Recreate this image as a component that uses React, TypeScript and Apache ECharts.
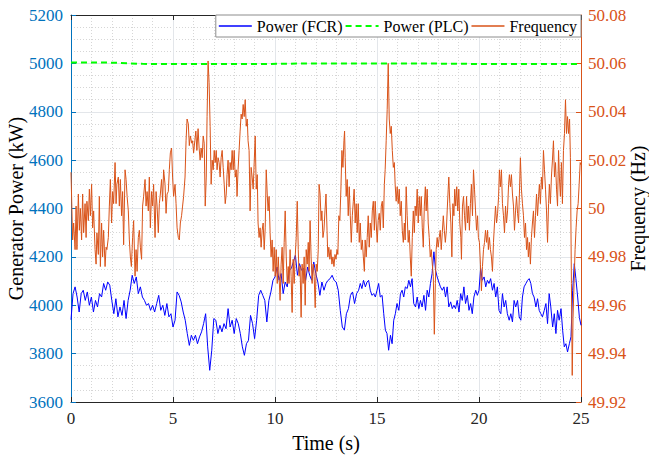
import React, { useEffect, useRef } from "react";
import * as echarts from "echarts";

// ---------- data ----------
const xTicks = [0, 5, 10, 15, 20, 25];
const powerTicks = [3600, 3800, 4000, 4200, 4400, 4600, 4800, 5000, 5200];
const freqTicks = [49.92, 49.94, 49.96, 49.98, 50, 50.02, 50.04, 50.06, 50.08];

const legendNames = ["Power (FCR)", "Power (PLC)", "Frequency"];

// Power (FCR) [time s, kW]
const powerFCR: [number, number][] = [
  [0, 3940], [0.1, 4048], [0.2, 4076], [0.3, 4034], [0.4, 3972], [0.5, 4048], [0.6, 4062], [0.7, 4020], [0.8, 4055], [0.9, 4000],
  [1.0, 4034], [1.1, 3972], [1.2, 4020], [1.3, 3993], [1.4, 4048], [1.5, 4034], [1.6, 4090], [1.7, 4062], [1.8, 4096], [1.9, 4083],
  [2.0, 4020], [2.1, 3965], [2.2, 4027], [2.3, 3952], [2.4, 3993], [2.5, 3958], [2.6, 4020], [2.7, 3945], [2.8, 4020], [2.9, 4062],
  [3.0, 4124], [3.1, 4090], [3.2, 4117], [3.3, 4048], [3.4, 4076], [3.5, 4034], [3.6, 4020], [3.7, 4000], [3.8, 4007], [3.9, 3979],
  [4.0, 4000], [4.1, 3972], [4.2, 4007], [4.3, 4041], [4.4, 3979], [4.5, 4000], [4.6, 3958], [4.7, 4007], [4.8, 3952], [4.9, 3965],
  [5.0, 3910], [5.1, 3938], [5.2, 4055], [5.3, 4041], [5.4, 4014], [5.5, 3972], [5.6, 3938], [5.7, 3883], [5.8, 3834], [5.9, 3876],
  [6.0, 3855], [6.1, 3876], [6.2, 3841], [6.3, 3869], [6.4, 3890], [6.5, 3924], [6.6, 3965], [6.7, 3828], [6.8, 3731], [6.9, 3814],
  [7.0, 3945], [7.1, 3938], [7.2, 3883], [7.3, 3917], [7.4, 3890], [7.5, 3924], [7.6, 3903], [7.7, 3986], [7.8, 3910], [7.9, 3938],
  [8.0, 3883], [8.1, 3945], [8.2, 3924], [8.3, 3883], [8.4, 3828], [8.5, 3793], [8.6, 3841], [8.7, 3855], [8.8, 3958], [8.9, 3924],
  [9.0, 3862], [9.1, 3938], [9.2, 4041], [9.3, 4062], [9.4, 4041], [9.5, 4020], [9.6, 3931], [9.7, 4020], [9.8, 4055], [9.9, 4103],
  [10.0, 4117], [10.1, 4158], [10.2, 4103], [10.3, 4131], [10.4, 4048], [10.5, 4096], [10.6, 4076], [10.7, 4145], [10.8, 4152], [10.9, 4179],
  [11.0, 4207], [11.1, 4124], [11.2, 4172], [11.3, 4145], [11.4, 4152], [11.5, 4103], [11.6, 4158], [11.7, 4124], [11.8, 4103], [11.9, 4179],
  [12.0, 4131], [12.1, 4096], [12.2, 4041], [12.3, 4096], [12.4, 4062], [12.5, 4090], [12.6, 4103], [12.7, 4110], [12.8, 4124], [12.9, 4103],
  [13.0, 4096], [13.1, 4062], [13.2, 3979], [13.3, 3910], [13.4, 3897], [13.5, 3965], [13.6, 3986], [13.7, 4041], [13.8, 4055], [13.9, 4007],
  [14.0, 4048], [14.1, 4062], [14.18, 4090], [14.26, 4069], [14.34, 4103], [14.43, 4076], [14.51, 4096], [14.59, 4103], [14.67, 4062], [14.75, 4041],
  [14.84, 4048], [14.92, 4034], [15.0, 4062], [15.08, 4090], [15.16, 4034], [15.25, 4041], [15.33, 3965], [15.41, 3897], [15.49, 3883], [15.57, 3814],
  [15.66, 3876], [15.74, 3841], [15.82, 3938], [15.9, 3965], [15.98, 4007], [16.07, 3979], [16.15, 4048], [16.23, 4062], [16.31, 4034], [16.39, 4076],
  [16.48, 4069], [16.56, 4103], [16.64, 4076], [16.72, 4110], [16.8, 4007], [16.89, 3993], [16.97, 4034], [17.05, 3986], [17.13, 4020], [17.21, 3993],
  [17.3, 4041], [17.38, 3979], [17.46, 4062], [17.54, 4034], [17.62, 4090], [17.7, 4131], [17.79, 4221], [17.87, 4145], [17.95, 4117], [18.03, 4096],
  [18.11, 4076], [18.2, 4062], [18.28, 4076], [18.36, 4034], [18.44, 4076], [18.52, 3993], [18.61, 4014], [18.69, 3986], [18.77, 4000], [18.85, 3986],
  [18.93, 4020], [19.02, 3972], [19.1, 4048], [19.18, 4020], [19.26, 4076], [19.34, 4007], [19.43, 4041], [19.51, 3979], [19.59, 4007], [19.67, 3965],
  [19.75, 4034], [19.84, 4062], [19.92, 4041], [20.0, 4062], [20.08, 4152], [20.16, 4103], [20.25, 4117], [20.33, 4076], [20.41, 4103], [20.49, 4090],
  [20.57, 4110], [20.66, 4062], [20.74, 4090], [20.82, 4034], [20.9, 4076], [20.98, 3979], [21.07, 3965], [21.15, 4048], [21.23, 3993], [21.31, 4020],
  [21.39, 3965], [21.48, 3938], [21.56, 3965], [21.64, 3931], [21.72, 4020], [21.8, 3993], [21.89, 4020], [21.97, 3952], [22.05, 3938], [22.13, 4034],
  [22.21, 4076], [22.3, 4090], [22.38, 4103], [22.46, 4110], [22.54, 4090], [22.62, 4048], [22.7, 4034], [22.79, 3993], [22.87, 4027], [22.95, 3979],
  [23.03, 3965], [23.11, 3952], [23.2, 3979], [23.28, 4007], [23.36, 3924], [23.44, 4048], [23.52, 3993], [23.61, 3910], [23.69, 3965], [23.77, 3883],
  [23.85, 3979], [23.93, 3938], [24.02, 3986], [24.1, 3897], [24.18, 3828], [24.26, 3841], [24.34, 3807], [24.43, 3841], [24.51, 3870], [24.59, 4060],
  [24.67, 4172], [24.75, 4110], [24.84, 4030], [24.92, 3950], [25.0, 3917],
];

// Power (PLC) [time s, kW]
const powerPLC: [number, number][] = [
  [0, 5004], [2, 5003], [3.5, 4998], [6, 4997], [9, 4997], [12, 5000], [15, 4999], [18, 4999], [21, 4997], [25, 4997],
];

// Frequency [time s, Hz]
const frequency: [number, number][] = [
  [0, 50.015], [0.08, 49.987], [0.13, 49.994], [0.2, 49.983], [0.25, 50.001], [0.29, 49.983], [0.36, 50.006], [0.41, 49.991], [0.46, 50.0], [0.52, 49.987],
  [0.57, 50.006], [0.62, 49.99], [0.69, 50.002], [0.74, 49.988], [0.78, 50.003], [0.85, 49.995], [0.9, 50.008], [0.95, 49.997], [1.01, 50.01], [1.06, 49.992],
  [1.11, 49.999], [1.18, 49.983], [1.23, 49.977], [1.27, 49.99], [1.34, 49.981], [1.39, 50.005], [1.44, 49.976], [1.5, 49.994], [1.55, 49.98], [1.6, 49.991],
  [1.67, 49.976], [1.72, 49.984], [1.76, 49.983], [1.83, 49.988], [1.88, 50.001], [1.93, 50.012], [1.99, 49.994], [2.04, 50.007], [2.09, 50.002], [2.16, 50.019],
  [2.21, 50.002], [2.25, 50.01], [2.32, 50.013], [2.37, 50.001], [2.42, 50.012], [2.48, 49.997], [2.53, 50.007], [2.58, 49.985], [2.65, 50.016], [2.7, 50.012],
  [2.75, 50.005], [2.81, 49.999], [2.86, 49.987], [2.91, 49.98], [2.96, 49.976], [3.02, 49.988], [3.07, 49.995], [3.14, 49.972], [3.19, 49.983], [3.24, 49.974],
  [3.3, 49.988], [3.35, 49.991], [3.4, 49.984], [3.46, 49.979], [3.51, 50.001], [3.56, 50.005], [3.63, 50.012], [3.68, 50.001], [3.73, 50.007], [3.79, 49.999],
  [3.84, 50.013], [3.89, 49.992], [3.95, 50.007], [4.0, 50.001], [4.05, 50.01], [4.12, 49.988], [4.17, 50.007], [4.22, 50.001], [4.28, 49.99], [4.33, 50.002],
  [4.38, 50.006], [4.44, 50.012], [4.49, 50.003], [4.54, 50.016], [4.61, 50.01], [4.66, 49.998], [4.71, 50.006], [4.77, 50.007], [4.82, 50.016], [4.87, 50.023],
  [4.93, 50.025], [4.98, 50.013], [5.03, 50.005], [5.1, 50.01], [5.15, 50.002], [5.2, 49.992], [5.26, 49.988], [5.31, 49.987], [5.36, 49.994], [5.42, 49.997],
  [5.47, 50.001], [5.52, 50.005], [5.59, 50.013], [5.64, 50.028], [5.69, 50.037], [5.75, 50.035], [5.8, 50.026], [5.85, 50.03], [5.92, 50.027], [5.96, 50.028],
  [6.01, 50.023], [6.07, 50.028], [6.12, 50.032], [6.17, 50.024], [6.23, 50.033], [6.28, 50.025], [6.33, 50.02], [6.38, 50.025], [6.43, 50.021], [6.48, 50.03],
  [6.53, 50.027], [6.58, 50.001], [6.63, 50.013], [6.67, 50.038], [6.72, 50.061], [6.77, 50.052], [6.82, 50.034], [6.87, 50.01], [6.92, 50.02], [6.97, 50.016],
  [7.02, 50.024], [7.07, 50.019], [7.12, 50.024], [7.16, 50.016], [7.21, 50.021], [7.26, 50.019], [7.31, 50.013], [7.36, 50.021], [7.41, 50.024], [7.46, 50.017],
  [7.51, 50.01], [7.56, 50.002], [7.61, 50.006], [7.65, 50.014], [7.7, 50.02], [7.75, 50.009], [7.8, 50.019], [7.85, 50.016], [7.9, 50.024], [7.95, 50.016],
  [8.0, 50.024], [8.05, 50.013], [8.1, 50.016], [8.14, 50.005], [8.19, 50.016], [8.24, 50.024], [8.29, 50.032], [8.34, 50.039], [8.39, 50.037], [8.44, 50.043],
  [8.49, 50.038], [8.54, 50.045], [8.59, 50.034], [8.64, 50.037], [8.68, 50.028], [8.73, 50.024], [8.78, 49.999], [8.83, 50.017], [8.88, 50.013], [8.93, 50.008],
  [8.98, 50.019], [9.03, 50.03], [9.08, 50.008], [9.13, 50.014], [9.17, 49.994], [9.22, 49.988], [9.27, 49.992], [9.32, 49.984], [9.37, 49.991], [9.42, 49.994],
  [9.47, 49.983], [9.52, 49.992], [9.57, 50.016], [9.62, 50.006], [9.66, 49.999], [9.71, 50.005], [9.76, 49.99], [9.81, 49.98], [9.86, 49.987], [9.91, 49.974],
  [9.96, 49.984], [10.01, 49.972], [10.06, 49.983], [10.11, 49.969], [10.16, 49.98], [10.2, 49.972], [10.25, 49.962], [10.3, 49.977], [10.35, 49.984], [10.4, 49.969],
  [10.45, 49.986], [10.5, 49.999], [10.55, 49.98], [10.6, 49.969], [10.65, 49.976], [10.69, 49.969], [10.74, 49.983], [10.79, 49.972], [10.84, 49.957], [10.89, 49.979],
  [10.94, 49.969], [10.99, 49.98], [11.04, 49.988], [11.09, 50.003], [11.14, 49.983], [11.18, 49.972], [11.23, 49.976], [11.28, 49.955], [11.33, 49.977], [11.38, 49.969],
  [11.43, 49.98], [11.48, 49.96], [11.53, 49.983], [11.58, 49.977], [11.63, 49.986], [11.67, 49.974], [11.72, 49.995], [11.77, 49.98], [11.82, 49.969], [11.87, 49.977],
  [11.92, 49.972], [11.97, 49.959], [12.02, 49.977], [12.07, 49.974], [12.12, 49.983], [12.16, 50.01], [12.21, 50.006], [12.26, 49.995], [12.3, 49.999], [12.35, 49.988],
  [12.4, 49.991], [12.45, 49.999], [12.5, 50.006], [12.55, 49.991], [12.59, 49.98], [12.64, 49.984], [12.69, 49.979], [12.74, 49.983], [12.79, 49.977], [12.84, 49.98],
  [12.89, 49.976], [12.94, 49.981], [12.99, 49.979], [13.04, 49.983], [13.08, 49.981], [13.13, 49.997], [13.18, 49.995], [13.23, 50.008], [13.28, 50.024], [13.33, 50.017],
  [13.38, 50.028], [13.41, 50.032], [13.44, 50.021], [13.49, 50.005], [13.54, 50.012], [13.59, 49.997], [13.64, 50.009], [13.69, 49.997], [13.74, 49.986], [13.79, 49.997],
  [13.84, 50.003], [13.88, 50.008], [13.93, 49.994], [13.98, 50.002], [14.03, 49.99], [14.08, 50.002], [14.13, 49.986], [14.18, 49.994], [14.23, 49.983], [14.28, 49.987],
  [14.33, 49.98], [14.38, 49.974], [14.42, 49.987], [14.47, 49.98], [14.52, 49.988], [14.57, 49.997], [14.62, 49.984], [14.67, 49.994], [14.72, 49.988], [14.77, 49.999],
  [14.82, 50.003], [14.87, 49.991], [14.91, 50.003], [14.96, 49.994], [15.01, 49.986], [15.06, 49.995], [15.11, 49.998], [15.16, 49.991], [15.21, 50.001], [15.26, 50.003],
  [15.31, 49.992], [15.36, 50.01], [15.4, 50.016], [15.45, 50.028], [15.5, 50.041], [15.55, 50.06], [15.6, 50.037], [15.65, 50.031], [15.7, 50.034], [15.75, 50.024],
  [15.8, 50.017], [15.85, 50.019], [15.89, 50.01], [15.94, 50.003], [15.99, 50.009], [16.04, 50.002], [16.09, 50.008], [16.14, 49.997], [16.19, 50.003], [16.24, 49.991],
  [16.29, 49.986], [16.34, 49.994], [16.38, 49.987], [16.43, 50.009], [16.48, 49.997], [16.53, 49.986], [16.58, 49.991], [16.63, 49.98], [16.68, 49.972], [16.73, 49.988],
  [16.78, 49.999], [16.83, 49.99], [16.87, 50.001], [16.92, 49.997], [16.97, 50.008], [17.02, 49.994], [17.07, 50.005], [17.12, 49.997], [17.17, 50.005], [17.22, 49.992],
  [17.27, 49.984], [17.32, 50.001], [17.37, 50.009], [17.41, 49.999], [17.46, 50.008], [17.51, 49.994], [17.56, 49.988], [17.61, 49.98], [17.66, 49.983], [17.71, 49.977],
  [17.76, 49.972], [17.81, 49.948], [17.86, 49.969], [17.9, 49.983], [17.95, 49.988], [18.0, 49.984], [18.05, 49.988], [18.1, 49.991], [18.15, 49.983], [18.2, 49.99],
  [18.25, 49.997], [18.3, 49.991], [18.35, 49.986], [18.4, 49.991], [18.44, 49.999], [18.49, 50.008], [18.52, 50.013], [18.57, 50.002], [18.62, 49.994], [18.67, 49.98],
  [18.72, 50.002], [18.77, 49.997], [18.81, 50.008], [18.86, 50.001], [18.91, 50.009], [18.96, 49.999], [19.01, 50.008], [19.06, 49.994], [19.11, 49.988], [19.14, 49.979],
  [19.19, 50.001], [19.24, 50.005], [19.29, 49.997], [19.34, 49.991], [19.39, 50.005], [19.44, 49.994], [19.48, 50.001], [19.53, 49.991], [19.58, 50.002], [19.63, 50.01],
  [19.68, 49.997], [19.73, 50.016], [19.78, 50.008], [19.83, 49.999], [19.88, 49.991], [19.93, 49.997], [19.97, 49.988], [20.02, 49.986], [20.07, 49.977], [20.12, 49.966],
  [20.17, 49.976], [20.22, 49.983], [20.27, 49.986], [20.32, 49.991], [20.37, 49.986], [20.42, 49.991], [20.46, 49.983], [20.51, 49.988], [20.56, 49.983], [20.61, 49.98],
  [20.66, 49.974], [20.71, 49.986], [20.76, 49.994], [20.81, 50.001], [20.86, 49.994], [20.91, 49.998], [20.96, 50.005], [21.0, 50.016], [21.05, 50.009], [21.1, 50.016],
  [21.15, 50.002], [21.2, 49.997], [21.25, 49.99], [21.3, 50.001], [21.35, 49.994], [21.4, 49.999], [21.45, 50.01], [21.49, 50.014], [21.54, 50.009], [21.59, 50.014],
  [21.64, 50.006], [21.69, 50.001], [21.74, 49.991], [21.79, 49.999], [21.84, 50.005], [21.89, 49.998], [21.94, 49.994], [21.98, 50.006], [22.03, 50.021], [22.08, 50.008],
  [22.13, 50.002], [22.18, 49.997], [22.23, 49.988], [22.28, 49.994], [22.33, 49.983], [22.38, 49.988], [22.42, 49.98], [22.47, 49.986], [22.52, 49.977], [22.57, 49.988],
  [22.62, 49.994], [22.67, 49.999], [22.72, 49.988], [22.77, 49.997], [22.82, 50.006], [22.87, 49.997], [22.92, 50.005], [22.96, 50.01], [23.01, 50.002], [23.06, 50.013],
  [23.11, 50.008], [23.16, 50.024], [23.21, 50.016], [23.26, 50.008], [23.31, 49.999], [23.36, 49.986], [23.41, 50.002], [23.45, 50.01], [23.5, 50.002], [23.55, 50.013],
  [23.6, 50.02], [23.65, 50.028], [23.7, 50.013], [23.75, 50.019], [23.8, 50.008], [23.85, 50.001], [23.9, 50.024], [23.94, 50.013], [23.99, 50.005], [24.04, 50.019],
  [24.09, 50.002], [24.14, 50.024], [24.19, 50.031], [24.24, 50.045], [24.29, 50.031], [24.34, 50.038], [24.39, 50.031], [24.44, 50.037], [24.48, 50.021], [24.53, 49.969],
  [24.57, 49.931], [24.61, 49.955], [24.66, 49.969], [24.71, 49.983], [24.76, 49.992], [24.81, 49.999], [24.86, 50.002], [24.91, 50.01], [24.96, 50.019], [25.0, 50.018],
];

const FONT = "Liberation Serif";
const BLUE_AXIS = "#0072BD";
const ORANGE = "#D95319";
const DARK = "#262626";

const ICON_LINE = "path://M0,0h33v1.3h-33z";
const ICON_DASH = "path://M0,0h6v2h-6z M10,0h6v2h-6z M20,0h6v2h-6z M30,0h3v2h-3z";

export default function App() {
  const ref = useRef<HTMLDivElement>(null);

  useEffect(() => {
    if (!ref.current) return;
    const chart = echarts.init(ref.current, undefined, { renderer: "svg" });

    const fmtFreq = (v: number) => "{t|" + String(Number(v.toFixed(2))) + "}";
    const fmtInt = (v: number) => "{t|" + String(Math.round(v)) + "}";
    const richText = (color: string, size: number) => ({
      t: { fontFamily: FONT, fontSize: size, color },
    });

    chart.setOption({
      animation: false,
      backgroundColor: "#ffffff",
      textStyle: { fontFamily: FONT },
      grid: { left: 71, right: 68, top: 15, bottom: 54, containLabel: false, outerBoundsMode: "none" },
      legend: {
        data: [
          { name: legendNames[0], icon: ICON_LINE },
          { name: legendNames[1], icon: ICON_DASH },
          { name: legendNames[2], icon: ICON_LINE },
        ],
        formatter: (name: string) => "{t|" + name + "}",
        right: 68,
        top: 15,
        orient: "horizontal",
        itemWidth: 33,
        itemHeight: 14,
        itemGap: 3,
        symbolKeepAspect: true,
        padding: [3, 4, 3, 3],
        backgroundColor: "#ffffff",
        borderColor: "#8c8c8c",
        borderWidth: 1,
        borderRadius: 0,
        textStyle: {
          fontFamily: FONT,
          fontSize: 16,
          color: "#000000",
          rich: richText("#000000", 16),
        },
      },
      xAxis: [
        {
          type: "value",
          position: "bottom",
          min: xTicks[0],
          max: xTicks[xTicks.length - 1],
          interval: 5,
          name: "Time (s)",
          nameLocation: "middle",
          nameGap: 31,
          nameMoveOverlap: false,
          nameTextStyle: { fontFamily: FONT, fontSize: 20, color: "#000000" },
          axisLine: { show: true, onZero: false, lineStyle: { color: DARK, width: 1 } },
          axisTick: { show: true, inside: true, length: 5, lineStyle: { color: DARK } },
          axisLabel: {
            fontFamily: FONT, fontSize: 17, color: DARK, margin: 8,
            formatter: fmtInt, rich: richText(DARK, 17),
          },
          splitLine: { show: true, lineStyle: { color: "#e3e6ea", width: 1 } },
          minorTick: { show: false, splitNumber: 5 },
          minorSplitLine: { show: true, lineStyle: { color: "#d6d6d6", width: 1, type: [1, 2] } },
        },
        {
          type: "value",
          position: "top",
          min: xTicks[0],
          max: xTicks[xTicks.length - 1],
          interval: 5,
          axisLine: { show: true, onZero: false, lineStyle: { color: DARK, width: 1 } },
          axisTick: { show: true, inside: true, length: 5, lineStyle: { color: DARK } },
          axisLabel: { show: false },
          splitLine: { show: false },
        },
      ],
      yAxis: [
        {
          type: "value",
          position: "left",
          min: powerTicks[0],
          max: powerTicks[powerTicks.length - 1],
          interval: 200,
          name: "Generator Power (kW)",
          nameLocation: "middle",
          nameGap: 45,
          nameMoveOverlap: false,
          nameTextStyle: { fontFamily: FONT, fontSize: 20, color: "#000000" },
          axisLine: { show: true, onZero: false, lineStyle: { color: BLUE_AXIS, width: 1 } },
          axisTick: { show: true, inside: true, length: 5, lineStyle: { color: BLUE_AXIS } },
          axisLabel: {
            fontFamily: FONT, fontSize: 17, color: BLUE_AXIS, margin: 8,
            formatter: fmtInt, rich: richText(BLUE_AXIS, 17),
          },
          splitLine: { show: true, lineStyle: { color: "#e3e6ea", width: 1 } },
          minorTick: { show: false, splitNumber: 4 },
          minorSplitLine: { show: true, lineStyle: { color: "#d6d6d6", width: 1, type: [1, 2] } },
        },
        {
          type: "value",
          position: "right",
          min: freqTicks[0],
          max: freqTicks[freqTicks.length - 1],
          interval: 0.02,
          name: "Frequency (Hz)",
          nameLocation: "middle",
          nameGap: 47,
          nameMoveOverlap: false,
          nameTextStyle: { fontFamily: FONT, fontSize: 20, color: "#000000" },
          axisLine: { show: true, onZero: false, lineStyle: { color: ORANGE, width: 1 } },
          axisTick: { show: true, inside: true, length: 5, lineStyle: { color: ORANGE } },
          axisLabel: {
            fontFamily: FONT, fontSize: 17, color: ORANGE, margin: 7,
            formatter: fmtFreq, rich: richText(ORANGE, 17),
          },
          splitLine: { show: false },
        },
      ],
      series: [
        {
          name: legendNames[0],
          type: "line",
          xAxisIndex: 0,
          yAxisIndex: 0,
          data: powerFCR,
          symbol: "none",
          showSymbol: false,
          lineStyle: { color: "#0000FF", width: 1 },
          itemStyle: { color: "#0000FF" },
          z: 2,
        },
        {
          name: legendNames[1],
          type: "line",
          xAxisIndex: 0,
          yAxisIndex: 0,
          data: powerPLC,
          symbol: "none",
          showSymbol: false,
          lineStyle: { color: "#00FF00", width: 2, type: [6, 4] },
          itemStyle: { color: "#00FF00" },
          z: 3,
        },
        {
          name: legendNames[2],
          type: "line",
          xAxisIndex: 0,
          yAxisIndex: 1,
          data: frequency,
          symbol: "none",
          showSymbol: false,
          lineStyle: { color: ORANGE, width: 1 },
          itemStyle: { color: ORANGE },
          z: 4,
        },
      ],
    });

    return () => chart.dispose();
  }, []);

  return (
    <div
      ref={ref}
      style={{ position: "fixed", left: 0, top: 0, width: 649, height: 456, background: "#fff" }}
    />
  );
}
